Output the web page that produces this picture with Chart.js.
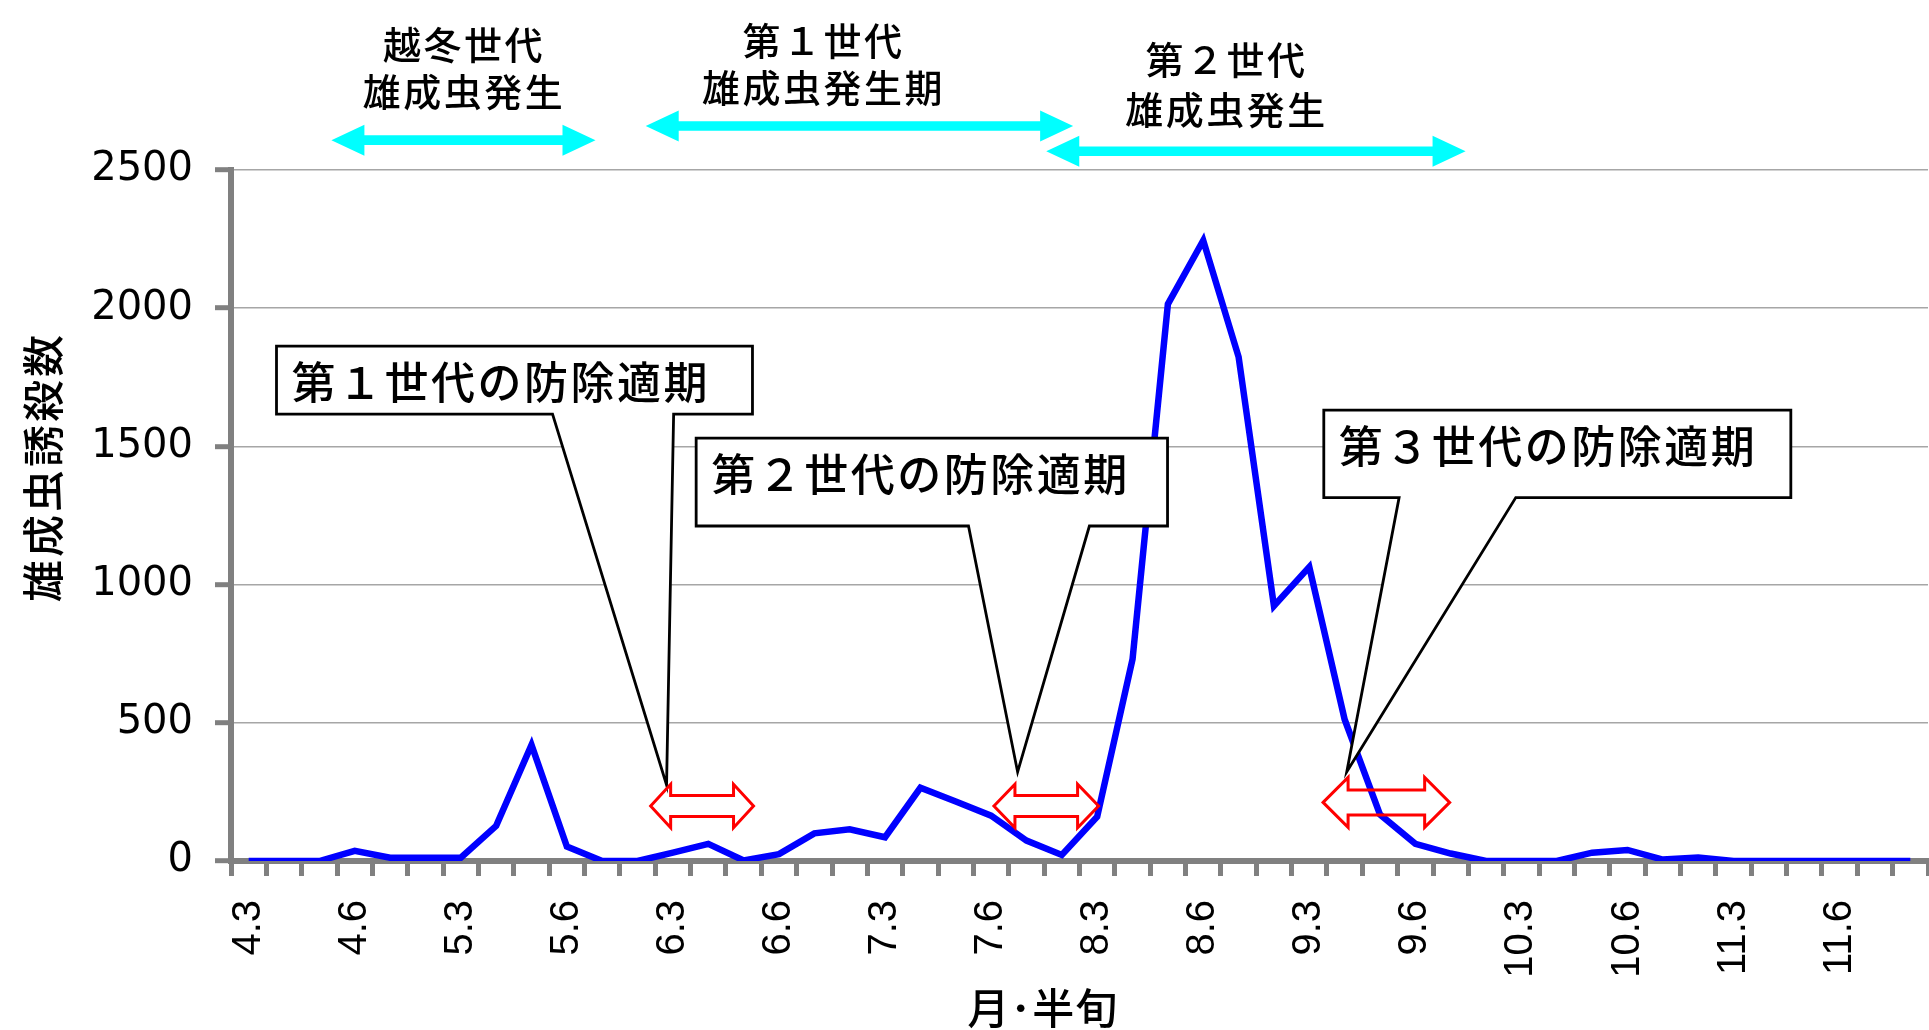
<!DOCTYPE html>
<html lang="ja">
<head>
<meta charset="utf-8">
<title>雄成虫誘殺数</title>
<script src="https://cdn.jsdelivr.net/npm/chart.js@4/dist/chart.umd.min.js"></script>
<style>
  html, body { margin: 0; padding: 0; background: #ffffff; }
  canvas { display: block; }
</style>
</head>
<body>
<canvas id="chart" width="1929" height="1030"></canvas>
<script>
// 半旬 (five-day periods) from early April to mid December
const halfMonths = [
  '4.3','4.4','4.5','4.6',
  '5.1','5.2','5.3','5.4','5.5','5.6',
  '6.1','6.2','6.3','6.4','6.5','6.6',
  '7.1','7.2','7.3','7.4','7.5','7.6',
  '8.1','8.2','8.3','8.4','8.5','8.6',
  '9.1','9.2','9.3','9.4','9.5','9.6',
  '10.1','10.2','10.3','10.4','10.5','10.6',
  '11.1','11.2','11.3','11.4','11.5','11.6',
  '12.1','12.2'
];

// male moths caught in the pheromone trap per half-month period
const maleCatches = [
  0, 0, 0, 37,
  12, 12, 12, 127, 420, 52,
  0, 0, 30, 62, 2, 25,
  100, 115, 86, 265, 215, 164,
  74, 22, 160, 730, 2015, 2245,
  1824, 923, 1064, 512, 168, 62,
  27, 0, 0, 0, 30, 40,
  5, 13, 0, 0, 0, 0,
  0, 0
];

const yTickValues = [0, 500, 1000, 1500, 2000, 2500];

const yAxisTitle = '雄成虫誘殺数';
const xAxisTitle = '月･半旬';

// generation emergence periods (text above the plot)
const emergenceTitles = [
  ['越冬世代', '雄成虫発生'],
  ['第１世代', '雄成虫発生期'],
  ['第２世代', '雄成虫発生']
];

// best spraying period of each generation
const controlTitles = [
  '第１世代の防除適期',
  '第２世代の防除適期',
  '第３世代の防除適期'
];

// ---- placement of the annotations, in axis units (category index, count) ----
const emergenceSpans = [
  { from: 2.34,  to: 9.81,  at: 2608, textAt: 6.09,  rows: [2955, 2782] },
  { from: 11.23, to: 23.32, at: 2659, textAt: 16.26, rows: [2970, 2798] },
  { from: 22.56, to: 34.42, at: 2568, textAt: 27.66, rows: [2901, 2720] }
];

const calloutFrames = [
  { left: 0.787,  right: 14.25, top: 1863, bottom: 1617, base: [8.595, 12.02], tip: [11.82, 275] },
  { left: 12.657, right: 25.99, top: 1530, bottom: 1212, base: [20.36, 23.78], tip: [21.75, 322] },
  { left: 30.41,  right: 43.62, top: 1631, bottom: 1315, base: [32.54, 35.84], tip: [31.06, 323] }
];

const sprayArrows = [
  { from: 11.37, to: 14.28, at: 199, head: 21.7, shaft: 10.5, len: 20 },
  { from: 21.08, to: 24.04, at: 199, head: 21.7, shaft: 10.5, len: 21 },
  { from: 30.39, to: 33.97, at: 212, head: 25,   shaft: 12.5, len: 25 }
];

const CJK_FONT = '"Noto Sans CJK JP", "Noto Sans CJK SC", sans-serif';

function doubleArrowPath(ctx, x1, x2, y, head, shaft, len) {
  ctx.beginPath();
  ctx.moveTo(x1, y);
  ctx.lineTo(x1 + len, y - head);
  ctx.lineTo(x1 + len, y - shaft);
  ctx.lineTo(x2 - len, y - shaft);
  ctx.lineTo(x2 - len, y - head);
  ctx.lineTo(x2, y);
  ctx.lineTo(x2 - len, y + head);
  ctx.lineTo(x2 - len, y + shaft);
  ctx.lineTo(x1 + len, y + shaft);
  ctx.lineTo(x1 + len, y + head);
  ctx.closePath();
}

const overlayPlugin = {
  id: 'periodOverlay',
  afterDatasetsDraw(chart) {
    const { ctx, scales: { x, y }, chartArea } = chart;
    const X = v => x.getPixelForValue(v);
    const Y = v => y.getPixelForValue(v);

    ctx.save();

    // callout boxes for the spraying periods
    calloutFrames.forEach((c, i) => {
      const l = X(c.left), r = X(c.right), t = Y(c.top), b = Y(c.bottom);
      ctx.beginPath();
      ctx.moveTo(l, t);
      ctx.lineTo(r, t);
      ctx.lineTo(r, b);
      ctx.lineTo(X(c.base[1]), b);
      ctx.lineTo(X(c.tip[0]), Y(c.tip[1]));
      ctx.lineTo(X(c.base[0]), b);
      ctx.lineTo(l, b);
      ctx.closePath();
      ctx.fillStyle = '#ffffff';
      ctx.fill();
      ctx.lineWidth = 2.8;
      ctx.lineJoin = 'miter';
      ctx.strokeStyle = '#000000';
      ctx.stroke();

      ctx.fillStyle = '#000000';
      ctx.font = '500 44px ' + CJK_FONT;
      ctx.letterSpacing = '2.5px';
      ctx.textAlign = 'left';
      ctx.textBaseline = 'middle';
      ctx.fillText(controlTitles[i], l + 15, t + 36);
    });

    // hollow red double arrows
    sprayArrows.forEach(a => {
      doubleArrowPath(ctx, X(a.from), X(a.to), Y(a.at), a.head, a.shaft, a.len);
      ctx.lineWidth = 3;
      ctx.strokeStyle = '#ff0000';
      ctx.stroke();
    });

    // cyan emergence arrows and their titles
    emergenceSpans.forEach((s, i) => {
      doubleArrowPath(ctx, X(s.from), X(s.to), Y(s.at), 15.5, 4.8, 33);
      ctx.fillStyle = '#00ffff';
      ctx.fill();

      ctx.fillStyle = '#000000';
      ctx.font = '500 38px ' + CJK_FONT;
      ctx.letterSpacing = '2.5px';
      ctx.textAlign = 'center';
      ctx.textBaseline = 'middle';
      emergenceTitles[i].forEach((line, k) => {
        ctx.fillText(line, X(s.textAt), Y(s.rows[k]));
      });
    });

    // axis titles
    ctx.fillStyle = '#000000';
    ctx.letterSpacing = '3px';
    ctx.font = '500 42px ' + CJK_FONT;
    ctx.textAlign = 'center';
    ctx.textBaseline = 'middle';
    ctx.save();
    ctx.translate(43, chartArea.top + 297);
    ctx.rotate(-Math.PI / 2);
    ctx.fillText(yAxisTitle, 0, 0);
    ctx.restore();

    ctx.letterSpacing = '1px';
    ctx.fillText(xAxisTitle, X(22.46), chartArea.bottom + 147);

    ctx.restore();
  }
};

new Chart(document.getElementById('chart'), {
  type: 'line',
  data: {
    labels: halfMonths,
    datasets: [{
      label: yAxisTitle,
      data: maleCatches,
      borderColor: '#0000ff',
      borderWidth: 6.5,
      pointRadius: 0,
      pointHoverRadius: 0,
      tension: 0,
      fill: false
    }]
  },
  options: {
    responsive: false,
    animation: false,
    devicePixelRatio: 1,
    events: [],
    layout: { padding: { left: 0, top: 170, right: 1, bottom: 0 } },
    plugins: {
      legend: { display: false },
      tooltip: { enabled: false },
      title: { display: false }
    },
    scales: {
      x: {
        type: 'category',
        offset: true,
        grid: {
          offset: true,
          drawOnChartArea: false,
          drawTicks: true,
          tickLength: 15,
          tickWidth: 5,
          tickColor: '#808080'
        },
        border: { display: true, color: '#808080', width: 6 },
        ticks: {
          autoSkip: false,
          minRotation: 90,
          maxRotation: 90,
          padding: 24,
          color: '#000000',
          font: { family: '"Liberation Sans", Arial, sans-serif', size: 40 },
          callback: (value, index) => (index % 3 === 0 ? halfMonths[index] : '')
        },
        afterFit: scale => {
          scale.height = 169;
          scale.paddingLeft = 0;
          scale.paddingRight = 0;
        }
      },
      y: {
        min: 0,
        max: 2500,
        afterBuildTicks: scale => { scale.ticks = yTickValues.map(v => ({ value: v })); },
        grid: {
          color: '#a6a6a6',
          lineWidth: 1.4,
          tickLength: 16,
          tickWidth: 5,
          tickColor: '#808080'
        },
        border: { display: true, color: '#808080', width: 6 },
        ticks: {
          padding: 22,
          color: '#000000',
          font: { family: '"DejaVu Sans", sans-serif', size: 40 },
          callback: value => String(value)
        },
        afterFit: scale => {
          scale.width = 231;
          scale.paddingTop = 0;
          scale.paddingBottom = 0;
        }
      }
    }
  },
  plugins: [overlayPlugin]
});
</script>
</body>
</html>
